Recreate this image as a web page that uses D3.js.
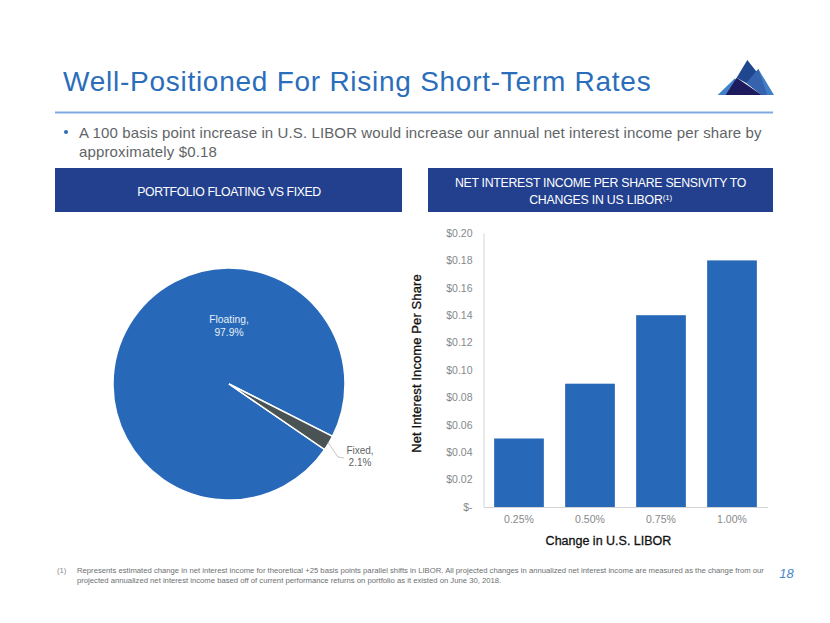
<!DOCTYPE html>
<html>
<head>
<meta charset="utf-8">
<script src="https://cdn.jsdelivr.net/npm/d3@7"></script>
<style>
  html, body { margin: 0; padding: 0; background: #fff; }
  svg { opacity: 0.999; }
  text { font-family: "Liberation Sans", sans-serif; }
</style>
</head>
<body>
<svg id="slide" width="830" height="623"></svg>
<script>
// pie data
var sliceNames = ['Floating', 'Fixed'];
var sliceValues = [97.9, 2.1];
var sliceColors = ['#2769b8', '#4a5354'];

// bar data
var rateLabels = ['0.25%', '0.50%', '0.75%', '1.00%'];
var incomeValues = [0.05, 0.09, 0.14, 0.18];
var incomeTicks = [0, 0.02, 0.04, 0.06, 0.08, 0.10, 0.12, 0.14, 0.16, 0.18, 0.20];

var footnoteLines = [
  'Represents estimated change in net interest income for theoretical +25 basis points parallel shifts in LIBOR. All projected changes in annualized net interest income are measured as the change from our',
  'projected annualized net interest income based off of current performance returns on portfolio as it existed on June 30, 2018.'
];

var svg = d3.select('#slide');

var addText = function (x, y, str, size, fill, anchor) {
  return svg.append('text')
      .attr('x', x)
      .attr('y', y)
      .attr('font-size', size)
      .attr('fill', fill)
      .attr('text-anchor', anchor || 'start')
      .text(str);
};

// title, rule, bullet
addText(63, 91, 'Well-Positioned For Rising Short-Term Rates', 28, '#2a6ebb').attr('letter-spacing', 0.74);
svg.append('rect').attr('x', 55).attr('y', 111.5).attr('width', 718).attr('height', 2).attr('fill', '#7fa9e0');
svg.append('circle').attr('cx', 66).attr('cy', 132).attr('r', 2).attr('fill', '#2a6ebb');
addText(79, 138, 'A 100 basis point increase in U.S. LIBOR would increase our annual net interest income per share by', 15, '#5f6567').attr('letter-spacing', 0.115);
addText(79, 157, 'approximately $0.18', 15, '#5f6567').attr('letter-spacing', 0.15);

// logo
var logoShapes = [
  {color: '#3f80c8', points: [[83, 135], [135, 85], [165, 135]]},
  {color: '#1f478f', points: [[172, 30], [205, 72], [170, 100], [140, 83]]},
  {color: '#4180c8', points: [[205, 57], [252, 135], [215, 135], [170, 100]]},
  {color: '#3563ae', points: [[205, 57], [232, 135], [215, 135], [170, 100]]},
  {color: '#1e1a5e', points: [[140, 83], [215, 135], [107, 135]]}
];
svg.append('g')
    .attr('transform', 'translate(690,50) scale(0.3333)')
    .selectAll('polygon')
    .data(logoShapes)
    .enter().append('polygon')
    .attr('fill', function (d) { return d.color; })
    .attr('points', function (d) { return d.points.join(' '); });

// panel headers
svg.append('rect').attr('x', 55).attr('y', 168).attr('width', 347).attr('height', 44).attr('fill', '#23408f');
svg.append('rect').attr('x', 428).attr('y', 168).attr('width', 345).attr('height', 44).attr('fill', '#23408f');
addText(229, 195.5, 'PORTFOLIO FLOATING VS FIXED', 12.3, '#fff', 'middle').attr('letter-spacing', -0.4);
addText(600.5, 187, 'NET INTEREST INCOME PER SHARE SENSIVITY TO', 12.3, '#fff', 'middle').attr('letter-spacing', -0.28);
var libor = addText(600.5, 204, 'CHANGES IN US LIBOR', 12.3, '#fff', 'middle').attr('letter-spacing', -0.2);
libor.append('tspan').attr('font-size', 8).attr('dy', -4).text('(1)');

// pie, fixed slice sits at lower right
var pieCenter = [229, 384];
var pieRadius = 116;
var pieStart = 124.4 * Math.PI / 180;
var pie = d3.pie().sort(null).startAngle(pieStart).endAngle(pieStart + 2 * Math.PI);
var arc = d3.arc().innerRadius(0).outerRadius(pieRadius);
var slices = pie(sliceValues);

var pieGroup = svg.append('g').attr('transform', 'translate(' + pieCenter + ')');
pieGroup.selectAll('path')
    .data(slices)
    .enter().append('path')
    .attr('d', arc)
    .attr('fill', function (d, i) { return sliceColors[i]; })
    .attr('stroke', '#fff')
    .attr('stroke-width', 1.5);

var fixedMid = (slices[1].startAngle + slices[1].endAngle) / 2;
var leaderX = pieCenter[0] + Math.sin(fixedMid) * (pieRadius - 1);
var leaderY = pieCenter[1] - Math.cos(fixedMid) * (pieRadius - 1);
svg.append('path')
    .attr('d', d3.line()([[leaderX, leaderY], [338, 457], [344, 458]]))
    .attr('fill', 'none')
    .attr('stroke', '#b5b5b5')
    .attr('stroke-width', 0.8);

addText(229, 323, sliceNames[0] + ',', 10.3, '#e4edf7', 'middle');
addText(229, 336, sliceValues[0].toFixed(1) + '%', 10.3, '#e4edf7', 'middle');
addText(360, 454, sliceNames[1] + ',', 10, '#5f6567', 'middle');
addText(360, 466, sliceValues[1].toFixed(1) + '%', 10, '#5f6567', 'middle');

// bar chart
var x = d3.scaleBand().domain(rateLabels).range([483.5, 767.5]).paddingInner(0.3).paddingOuter(0.15);
var y = d3.scaleLinear().domain([0, 0.2]).range([507, 233]);

svg.selectAll('rect.bar')
    .data(incomeValues)
    .enter().append('rect')
    .attr('class', 'bar')
    .attr('x', function (d, i) { return x(rateLabels[i]); })
    .attr('y', function (d) { return y(d); })
    .attr('width', x.bandwidth())
    .attr('height', function (d) { return y(0) - y(d); })
    .attr('fill', '#2769b8');

var yAxis = svg.append('g')
    .attr('transform', 'translate(483.5,0)')
    .call(d3.axisLeft(y)
        .tickValues(incomeTicks)
        .tickSize(0)
        .tickPadding(11)
        .tickFormat(function (d) { return d === 0 ? '$-' : d3.format('$.2f')(d); }));

var xAxis = svg.append('g')
    .attr('transform', 'translate(0,507)')
    .call(d3.axisBottom(x).tickSize(0).tickPadding(9));

[yAxis, xAxis].forEach(function (axis) {
  axis.select('.domain').attr('stroke', '#d4d4d4').attr('stroke-width', 1);
  axis.selectAll('text')
      .attr('font-size', 10.5)
      .attr('fill', '#85898b')
      .style('font-family', '"Liberation Sans", sans-serif');
});

addText(608.5, 545, 'Change in U.S. LIBOR', 12.5, '#111', 'middle')
    .attr('stroke', '#111')
    .attr('stroke-width', 0.3);
svg.append('text')
    .attr('transform', 'translate(421,363.5) rotate(-90)')
    .attr('font-size', 13)
    .attr('letter-spacing', 0.1)
    .attr('fill', '#111')
    .attr('stroke', '#111')
    .attr('stroke-width', 0.3)
    .attr('text-anchor', 'middle')
    .text('Net Interest Income Per Share');

// footnote and page number
addText(57, 573, '(1)', 7.7, '#85898b');
addText(77, 573, footnoteLines[0], 7.7, '#6b7072');
addText(77, 583, footnoteLines[1], 7.7, '#6b7072');
addText(786.5, 578, '18', 13, '#4a86d0', 'middle').attr('font-style', 'italic');
</script>
</body>
</html>
